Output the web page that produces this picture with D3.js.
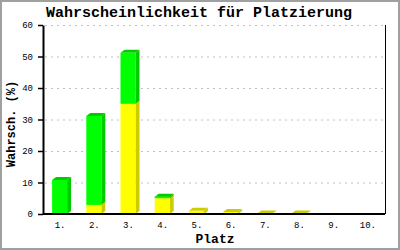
<!DOCTYPE html>
<html>
<head>
<meta charset="utf-8">
<script src="https://cdn.jsdelivr.net/npm/d3@7"></script>
<style>
  body { margin: 0; background: #fff; }
  svg { display: block; }
</style>
</head>
<body>
<svg id="chart"></svg>
<script>
// data
var places = ['1.', '2.', '3.', '4.', '5.', '6.', '7.', '8.', '9.', '10.'];
var yellowVals = [0, 2.9, 35.0, 5.0, 1.0, 0.6, 0.15, 0.15, 0, 0];
var greenVals = [10.8, 28.2, 16.2, 0.5, 0, 0, 0, 0, 0, 0];
var yTicks = [0, 10, 20, 30, 40, 50, 60];

var width = 400, height = 250;
var margin = {top: 25, right: 15, bottom: 36, left: 43};
var mono = '"Liberation Mono", "DejaVu Sans Mono", monospace';

var svg = d3.select('#chart').attr('width', width).attr('height', height);

// frame
svg.append('rect')
    .attr('x', 1).attr('y', 1)
    .attr('width', width - 2).attr('height', height - 2)
    .attr('fill', '#fff')
    .attr('stroke', '#a0a0a0')
    .attr('stroke-width', 2);

var x = d3.scaleBand()
    .domain(places)
    .range([margin.left, width - margin.right]);

var y = d3.scaleLinear()
    .domain([0, 60])
    .range([height - margin.bottom, margin.top]);

// grid
svg.append('g').selectAll('line').data(yTicks.slice(1)).enter()
    .append('line')
    .attr('x1', margin.left + 2).attr('x2', width - margin.right)
    .attr('y1', d => y(d) + 0.5).attr('y2', d => y(d) + 0.5)
    .attr('stroke', '#c0c0c0')
    .attr('stroke-dasharray', '2,4');

// right border line
svg.append('line')
    .attr('x1', width - margin.right + 0.5).attr('x2', width - margin.right + 0.5)
    .attr('y1', y(60)).attr('y2', y(0))
    .attr('stroke', '#000');

// 3d bars
var dx = 4, dy = 3, bw = 15;
var colors = {
    yellow: {front: '#ffff00', dark: '#cccc00'},
    green: {front: '#00ff00', dark: '#00cc00'}
};

function drawSegment(g, c, lo, hi, col) {
    if (hi - lo <= 0) return;
    var x0 = x(c) + x.bandwidth() / 2 - 8;
    var x1 = x0 + bw;
    var yb = y(lo), yt = y(hi);
    // side
    g.append('polygon')
        .attr('points', [[x1, yb], [x1, yt], [x1 + dx, yt - dy], [x1 + dx, yb - dy]].join(' '))
        .attr('fill', col.dark);
    // top
    g.append('polygon')
        .attr('points', [[x0, yt], [x0 + dx, yt - dy], [x1 + dx, yt - dy], [x1, yt]].join(' '))
        .attr('fill', col.dark);
    // front
    g.append('rect')
        .attr('x', x0).attr('y', yt)
        .attr('width', bw).attr('height', yb - yt)
        .attr('fill', col.front);
}

var bars = svg.append('g');
places.forEach(function (c, i) {
    var g = bars.append('g');
    drawSegment(g, c, 0, yellowVals[i], colors.yellow);
    drawSegment(g, c, yellowVals[i], yellowVals[i] + greenVals[i], colors.green);
});

// axes
var yaxis = d3.axisLeft(y).tickValues(yTicks).tickSize(5).tickPadding(5).tickSizeOuter(0);
var gy = svg.append('g')
    .attr('transform', `translate(${margin.left}, 0)`)
    .call(yaxis);
gy.select('.domain').attr('stroke-width', 2);
gy.selectAll('.tick line').attr('stroke-width', 1.5);
gy.selectAll('text').attr('font-family', mono).attr('font-size', 9);

var xaxis = d3.axisBottom(x).tickSize(0).tickPadding(8).tickSizeOuter(0);
var gx = svg.append('g')
    .attr('transform', `translate(0, ${height - margin.bottom})`)
    .call(xaxis);
gx.select('.domain').attr('stroke-width', 2).attr('d', `M${margin.left},0H${width - margin.right}`);
gx.selectAll('text').attr('font-family', mono).attr('font-size', 9);

// titles
svg.append('text')
    .attr('x', 199).attr('y', 17)
    .attr('text-anchor', 'middle')
    .attr('font-family', mono).attr('font-size', 15).attr('font-weight', 'bold')
    .text('Wahrscheinlichkeit für Platzierung');

svg.append('text')
    .attr('x', (margin.left + width - margin.right) / 2 + 1).attr('y', 243)
    .attr('text-anchor', 'middle')
    .attr('font-family', mono).attr('font-size', 13).attr('font-weight', 'bold')
    .text('Platz');

svg.append('text')
    .attr('transform', 'translate(15, 124) rotate(-90)')
    .attr('text-anchor', 'middle')
    .attr('font-family', mono).attr('font-size', 12).attr('font-weight', 'bold')
    .text('Wahrsch. (%)');
</script>
</body>
</html>
